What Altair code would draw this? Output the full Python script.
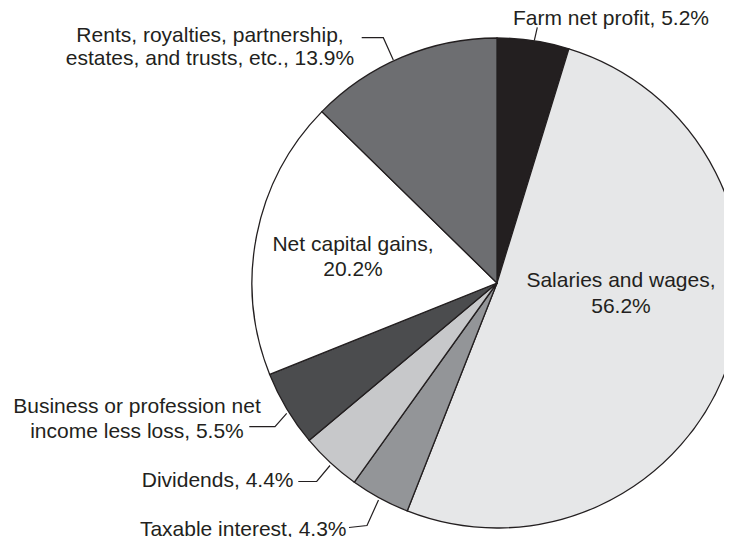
import altair as alt
import pandas as pd

# ---- data ----
categories = ["Farm net profit", "Salaries and wages", "Taxable interest", "Dividends",
              "Business or profession net income less loss", "Net capital gains",
              "Rents, royalties, partnership, estates, and trusts, etc."]
values = [5.2, 56.2, 4.3, 4.4, 5.5, 20.2, 13.9]
colors = ["#231f20", "#e6e7e8", "#939598", "#c7c8ca", "#4b4c4e", "#ffffff", "#6d6e71"]

label_lines = ["Farm net profit, 5.2%",
               "Rents, royalties, partnership,", "estates, and trusts, etc., 13.9%",
               "Net capital gains,", "20.2%",
               "Salaries and wages,", "56.2%",
               "Business or profession net", "income less loss, 5.5%",
               "Dividends, 4.4%",
               "Taxable interest, 4.3%"]

# ---- layout (page pixel positions for annotations) ----
OFF = 8
label_x = [611, 210, 210, 353, 353, 621, 621, 137, 137, 293.5, 346.5]
label_y = [25, 41.7, 65, 250.7, 276, 287.3, 313.3, 413.3, 438.3, 486.7, 535.5]
label_align = ["center", "center", "center", "center", "center", "center", "center",
               "center", "center", "right", "right"]

leaders = [
    [(537.3, 27.3), (534.3, 40.7)],
    [(361.7, 37.7), (383.3, 37.7), (393.3, 60)],
    [(249.3, 426.7), (275, 426.7), (286.7, 413.3)],
    [(298.3, 481.5), (316.7, 481.5), (330, 465.5)],
    [(349, 527.5), (367, 525.5), (378.5, 500)],
]

cx, cy, r = 497 - OFF, 283 - OFF, 245

pie_df = pd.DataFrame({"category": categories, "value": values, "order": list(range(len(values)))})

pie = alt.Chart(pie_df).mark_arc(stroke="#231f20", strokeWidth=1.3).encode(
    theta=alt.Theta("value:Q", stack=True),
    order=alt.Order("order:Q"),
    color=alt.Color("category:N", scale=alt.Scale(domain=categories, range=colors), legend=None),
    x=alt.value(cx), y=alt.value(cy), radius=alt.value(r),
)

layers = [pie]
for al in ["center", "right"]:
    rows = [{"text": t, "x": x - OFF, "y": y - OFF}
            for t, x, y, a in zip(label_lines, label_x, label_y, label_align) if a == al]
    layers.append(alt.Chart(pd.DataFrame(rows)).mark_text(
        align=al, baseline="alphabetic", font="Liberation Sans", fontSize=21, color="#231f20"
    ).encode(x=alt.X("x:Q", scale=None), y=alt.Y("y:Q", scale=None), text="text:N"))

lrows = []
for i, pts in enumerate(leaders):
    for j, (x, y) in enumerate(pts):
        lrows.append({"id": i, "seq": j, "x": x - OFF, "y": y - OFF})
lines = alt.Chart(pd.DataFrame(lrows)).mark_line(color="#231f20", strokeWidth=1.2).encode(
    x=alt.X("x:Q", scale=None), y=alt.Y("y:Q", scale=None),
    detail="id:N", order="seq:Q")
layers.append(lines)

chart = alt.layer(*layers).properties(
    width=716, height=529, padding=0,
    autosize=alt.AutoSizeParams(type="none"),
    background="white",
).configure_view(stroke=None)

chart.save("out.html", embed_options={"renderer": "svg", "actions": False})
